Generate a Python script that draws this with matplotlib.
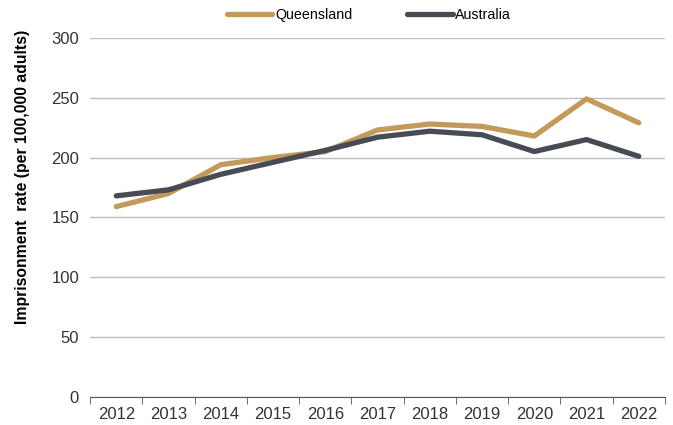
import matplotlib
matplotlib.use('Agg')
import matplotlib.pyplot as plt
import numpy as np

plt.rcParams['font.family'] = ['Liberation Sans', 'DejaVu Sans']

# ---- Data ----
years = ['2012', '2013', '2014', '2015', '2016', '2017', '2018', '2019', '2020', '2021', '2022']
queensland = [159, 170, 194, 200, 205, 223, 228, 226, 218, 249, 229]
australia = [168, 173, 186, 196, 206, 217, 222, 219, 205, 215, 201]

# ---- Plot ----
fig = plt.figure(figsize=(6.73, 4.25), dpi=100)
ax = fig.add_axes([0.134, 0.066, 0.854, 0.845])

x = np.arange(len(years))
ax.plot(x, queensland, color='#C39A5A', lw=3.8, label='Queensland', solid_capstyle='round')
ax.plot(x, australia, color='#474C54', lw=3.8, label='Australia', solid_capstyle='round')

ax.set_ylim(0, 300)
ax.set_yticks(range(0, 301, 50))
ax.set_xlim(-0.5, len(years) - 0.5)
ax.set_xticks(x)
ax.set_xticklabels(years)
ax.set_xticks(np.arange(-0.5, len(years)), minor=True)
ax.tick_params(axis='x', which='major', length=0, labelsize=12, pad=7, colors='#333333')
ax.tick_params(axis='x', which='minor', length=5, color='#555555')
ax.tick_params(axis='y', length=0, labelsize=12, pad=8, colors='#333333')

ax.grid(axis='y', color='#BDBDBD', lw=1)
ax.set_axisbelow(True)
for s in ['top', 'right', 'left']:
    ax.spines[s].set_visible(False)
ax.spines['bottom'].set_color('#555555')

ax.set_ylabel('Imprisonment  rate (per 100,000 adults)', fontsize=11.3, fontweight='bold')
ax.yaxis.set_label_coords(-0.104, 0.613)

ax.legend(loc='upper center', bbox_to_anchor=(0.485, 1.12), ncol=2, frameon=False,
          fontsize=10.3, handlelength=3.2, columnspacing=3.8, handletextpad=0.2)

plt.savefig('out.png', dpi=100)
